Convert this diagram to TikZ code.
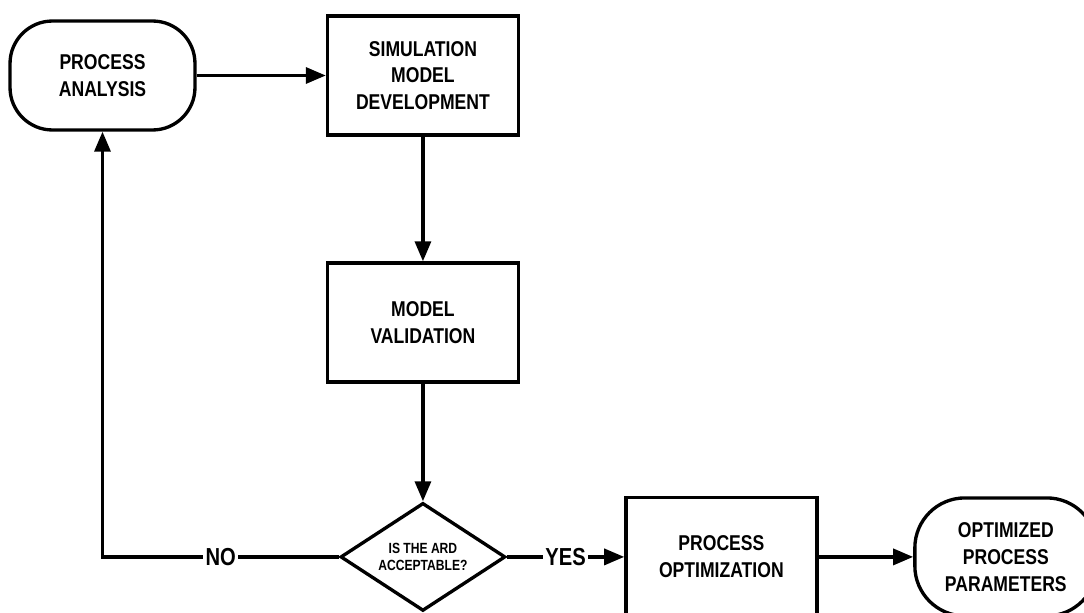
\documentclass[tikz,border=0pt]{standalone}
\usepackage{fontspec}
\setmainfont{Liberation Sans}[FakeStretch=0.82]
\usetikzlibrary{arrows.meta, positioning, shapes.geometric}

\begin{document}
\begin{tikzpicture}[x=0.02cm,y=-0.02cm,>={Triangle[length=0.4cm,width=0.32cm]},
			line width=1.9pt,node distance=2cm,
			terminal/.style={rectangle,rounded corners=0.85cm,draw,align=center,minimum width=3.7cm,minimum height=2.18cm,font=\fontsize{12.2}{15.2}\selectfont\bfseries},
			box/.style={rectangle,draw,align=center,minimum width=3.82cm,minimum height=2.38cm,font=\fontsize{12.2}{15.2}\selectfont\bfseries},
			decision/.style={diamond,draw,aspect=1.53,inner sep=0pt,align=center,minimum width=3.3cm,minimum height=2.16cm,font=\fontsize{8.4}{10}\selectfont\bfseries},
			answer/.style={fill=white,inner sep=1.2pt,font=\fontsize{14}{15}\selectfont\bfseries}]
			
			\clip (0,0) rectangle (1084,612);
			
			\node[terminal] (pa) at (102.5,75.5) {PROCESS\\ANALYSIS};
			\node[box] (smd) [node distance=6.41cm, right of=pa] {SIMULATION\\MODEL\\DEVELOPMENT};
			\node[box] (mv) [node distance=4.94cm, below of=smd] {MODEL\\VALIDATION};
			\node[decision] (ard) [node distance=4.69cm, below of=mv] {IS THE ARD\\ACCEPTABLE?};
			\node[box] (po) [node distance=5.97cm, right of=ard] {PROCESS\\OPTIMIZATION};
			\node[terminal,rounded corners=1cm,minimum width=3.64cm,minimum height=2.36cm] (opp) [node distance=5.69cm, right of=po] {OPTIMIZED\\PROCESS\\PARAMETERS};
			
			\draw[->] (pa) -- (smd);
			\draw[->] (smd) -- (mv);
			\draw[->] (mv) -- (ard);
			\draw[->] (ard) -- node[answer] {YES} (po);
			\draw[->] (po) -- (opp);
			\draw[->] (ard.west) -| node[answer,pos=0.25] {NO} (pa.south);
		
		\end{tikzpicture}
\end{document}
